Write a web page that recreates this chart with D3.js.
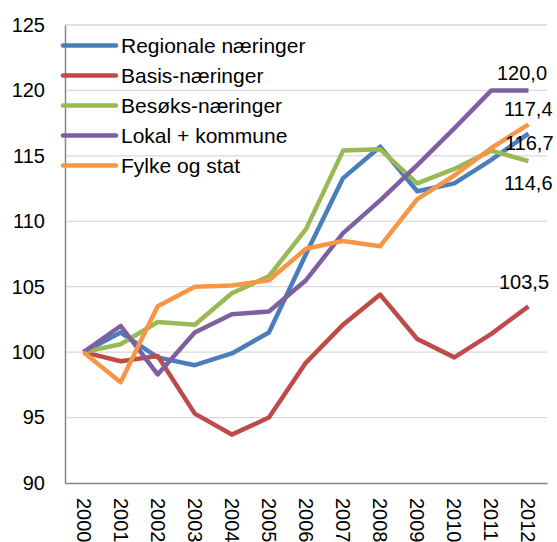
<!DOCTYPE html>
<html>
<head>
<meta charset="utf-8">
<script src="https://cdn.jsdelivr.net/npm/d3@7"></script>
<style>
  body { margin: 0; background: #fff; }
  svg { display: block; font-family: "Liberation Sans", Arial, sans-serif; }
</style>
</head>
<body>
<div id="chart"></div>
<script>
var years = ["2000","2001","2002","2003","2004","2005","2006","2007","2008","2009","2010","2011","2012"];
var seriesNames = ["Regionale næringer", "Basis-næringer", "Besøks-næringer", "Lokal + kommune", "Fylke og stat"];
var regionale = [100, 101.5, 99.6, 99.0, 99.9, 101.5, 107.5, 113.3, 115.7, 112.3, 112.9, 114.7, 116.7];
var basis     = [100, 99.3, 99.7, 95.3, 93.7, 95.0, 99.2, 102.1, 104.4, 101.0, 99.6, 101.4, 103.5];
var besoks    = [100, 100.6, 102.3, 102.1, 104.5, 105.8, 109.4, 115.4, 115.5, 112.9, 114.0, 115.4, 114.6];
var lokal     = [100, 102.0, 98.3, 101.5, 102.9, 103.1, 105.5, 109.1, 111.6, 114.3, 117.1, 120.0, 120.0];
var fylke     = [100, 97.7, 103.5, 105.0, 105.1, 105.5, 107.9, 108.5, 108.1, 111.7, 113.5, 115.6, 117.4];
var yTicks = [90, 95, 100, 105, 110, 115, 120, 125];

var colors = ["#4a7ebb", "#be4b48", "#98b954", "#7d60a0", "#f79646"];
var allSeries = [regionale, basis, besoks, lokal, fylke];

// end label placement (dx from point, dy of text centre from point)
var labelPos = [[-23.5, 9], [-29.5, -24], [-24.5, 21.5], [-31.5, -17.5], [-24.5, -15.5]];

var svg = d3.select("#chart").append("svg")
    .attr("width", 557)
    .attr("height", 542);

var plotLeft = 65, plotRight = 547, plotTop = 25, plotBottom = 483;

var x = d3.scaleBand().domain(years).range([plotLeft, plotRight]);
var y = d3.scaleLinear().domain([90, 125]).range([plotBottom, plotTop]);
var cx = function(d) { return x(d) + x.bandwidth() / 2; };

// grid
svg.append("g").selectAll("line")
    .data(yTicks.filter(function(t){ return t > 90; }))
    .enter().append("line")
      .attr("x1", plotLeft).attr("x2", plotRight)
      .attr("y1", function(d){ return y(d); })
      .attr("y2", function(d){ return y(d); })
      .attr("stroke", "#d9d9d9")
      .attr("stroke-width", 1.3);

// y axis
var yAxis = d3.axisLeft(y).tickValues(yTicks).tickSize(0).tickSizeOuter(0).tickPadding(20);
var gy = svg.append("g").attr("transform", "translate(" + plotLeft + ",0)").call(yAxis);
gy.select(".domain").attr("stroke", "#868686").attr("stroke-width", 1.5);
gy.selectAll("text").attr("font-size", 20).attr("fill", "#000")
    .style("font-family", "Liberation Sans, Arial, sans-serif");

// x axis
var xAxis = d3.axisBottom(x).tickSize(0).tickSizeOuter(0);
var gx = svg.append("g").attr("transform", "translate(0," + plotBottom + ")").call(xAxis);
gx.select(".domain").attr("stroke", "#868686").attr("stroke-width", 1.5);
gx.selectAll("text")
    .attr("font-size", 20).attr("fill", "#000")
    .style("font-family", "Liberation Sans, Arial, sans-serif")
    .attr("transform", "rotate(90)")
    .attr("text-anchor", "start")
    .attr("x", 15).attr("y", 0)
    .attr("dy", "0.35em");

// lines
var line = d3.line()
    .x(function(d, i){ return cx(years[i]); })
    .y(function(d){ return y(d); });

svg.append("g").selectAll("path")
    .data(allSeries)
    .enter().append("path")
      .attr("d", line)
      .attr("fill", "none")
      .attr("stroke", function(d, i){ return colors[i]; })
      .attr("stroke-width", 4.5)
      .attr("stroke-linejoin", "round");

// end labels
var last = years[years.length - 1];
svg.append("g").selectAll("text")
    .data(allSeries)
    .enter().append("text")
      .attr("x", function(d, i){ return cx(last) + labelPos[i][0]; })
      .attr("y", function(d, i){ return y(d[d.length - 1]) + labelPos[i][1]; })
      .attr("dy", "0.35em")
      .attr("font-size", 20)
      .attr("fill", "#000")
      .text(function(d){ return d3.format(".1f")(d[d.length - 1]).replace(".", ","); });

// legend
var legend = svg.append("g").selectAll("g")
    .data(seriesNames)
    .enter().append("g")
      .attr("transform", function(d, i){ return "translate(0," + (45.6 + i * 30) + ")"; });
legend.append("line")
    .attr("x1", 63).attr("x2", 116)
    .attr("stroke", function(d, i){ return colors[i]; })
    .attr("stroke-width", 4.5)
    .attr("stroke-linecap", "round");
legend.append("text")
    .attr("x", 121)
    .attr("dy", "0.35em")
    .attr("font-size", 21)
    .attr("fill", "#000")
    .text(function(d){ return d; });
</script>
</body>
</html>
